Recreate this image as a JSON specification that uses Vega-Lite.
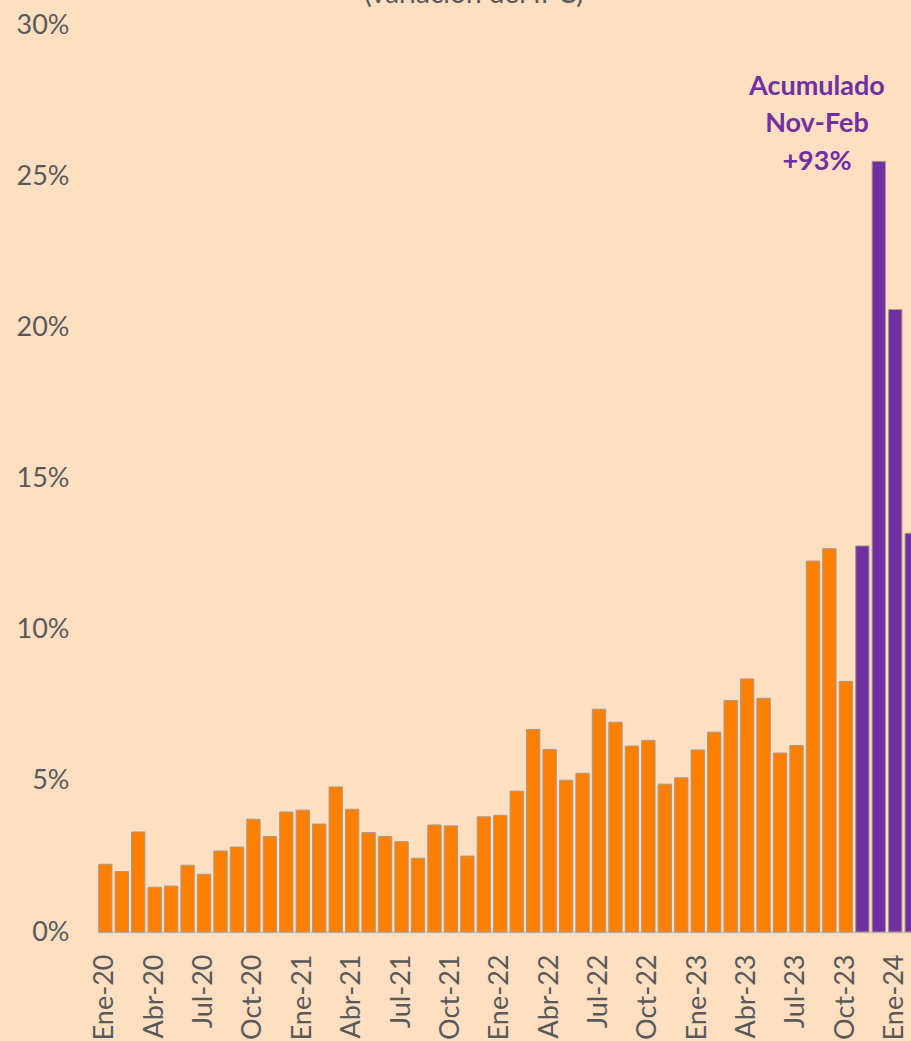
{
  "$schema": "https://vega.github.io/schema/vega-lite/v6.json",
  "autosize": "none",
  "width": 814,
  "height": 907,
  "padding": {"left": 97, "top": 25, "right": 0, "bottom": 109},
  "background": "#FFDFC1",
  "config": {"view": {"stroke": null}},
  "title": {
    "text": "(variación del IPC)",
    "font": "Lato",
    "fontSize": 28,
    "fontWeight": "normal",
    "color": "#595959",
    "anchor": "middle",
    "frame": "group",
    "baseline": "alphabetic",
    "dx": -30,
    "dy": 20,
    "offset": 0
  },
  "datasets": {
    "ipc": [
      {"mes": "Ene-20", "valor": 2.24, "grupo": "base"},
      {"mes": "Feb-20", "valor": 2.0, "grupo": "base"},
      {"mes": "Mar-20", "valor": 3.31, "grupo": "base"},
      {"mes": "Abr-20", "valor": 1.48, "grupo": "base"},
      {"mes": "May-20", "valor": 1.52, "grupo": "base"},
      {"mes": "Jun-20", "valor": 2.21, "grupo": "base"},
      {"mes": "Jul-20", "valor": 1.91, "grupo": "base"},
      {"mes": "Ago-20", "valor": 2.68, "grupo": "base"},
      {"mes": "Sep-20", "valor": 2.81, "grupo": "base"},
      {"mes": "Oct-20", "valor": 3.73, "grupo": "base"},
      {"mes": "Nov-20", "valor": 3.16, "grupo": "base"},
      {"mes": "Dic-20", "valor": 3.97, "grupo": "base"},
      {"mes": "Ene-21", "valor": 4.03, "grupo": "base"},
      {"mes": "Feb-21", "valor": 3.57, "grupo": "base"},
      {"mes": "Mar-21", "valor": 4.8, "grupo": "base"},
      {"mes": "Abr-21", "valor": 4.06, "grupo": "base"},
      {"mes": "May-21", "valor": 3.29, "grupo": "base"},
      {"mes": "Jun-21", "valor": 3.16, "grupo": "base"},
      {"mes": "Jul-21", "valor": 2.99, "grupo": "base"},
      {"mes": "Ago-21", "valor": 2.44, "grupo": "base"},
      {"mes": "Sep-21", "valor": 3.54, "grupo": "base"},
      {"mes": "Oct-21", "valor": 3.51, "grupo": "base"},
      {"mes": "Nov-21", "valor": 2.51, "grupo": "base"},
      {"mes": "Dic-21", "valor": 3.81, "grupo": "base"},
      {"mes": "Ene-22", "valor": 3.86, "grupo": "base"},
      {"mes": "Feb-22", "valor": 4.66, "grupo": "base"},
      {"mes": "Mar-22", "valor": 6.7, "grupo": "base"},
      {"mes": "Abr-22", "valor": 6.04, "grupo": "base"},
      {"mes": "May-22", "valor": 5.02, "grupo": "base"},
      {"mes": "Jun-22", "valor": 5.25, "grupo": "base"},
      {"mes": "Jul-22", "valor": 7.37, "grupo": "base"},
      {"mes": "Ago-22", "valor": 6.94, "grupo": "base"},
      {"mes": "Sep-22", "valor": 6.15, "grupo": "base"},
      {"mes": "Oct-22", "valor": 6.34, "grupo": "base"},
      {"mes": "Nov-22", "valor": 4.89, "grupo": "base"},
      {"mes": "Dic-22", "valor": 5.1, "grupo": "base"},
      {"mes": "Ene-23", "valor": 6.02, "grupo": "base"},
      {"mes": "Feb-23", "valor": 6.61, "grupo": "base"},
      {"mes": "Mar-23", "valor": 7.66, "grupo": "base"},
      {"mes": "Abr-23", "valor": 8.37, "grupo": "base"},
      {"mes": "May-23", "valor": 7.73, "grupo": "base"},
      {"mes": "Jun-23", "valor": 5.92, "grupo": "base"},
      {"mes": "Jul-23", "valor": 6.17, "grupo": "base"},
      {"mes": "Ago-23", "valor": 12.27, "grupo": "base"},
      {"mes": "Sep-23", "valor": 12.68, "grupo": "base"},
      {"mes": "Oct-23", "valor": 8.29, "grupo": "base"},
      {"mes": "Nov-23", "valor": 12.77, "grupo": "acumulado"},
      {"mes": "Dic-23", "valor": 25.49, "grupo": "acumulado"},
      {"mes": "Ene-24", "valor": 20.59, "grupo": "acumulado"},
      {"mes": "Feb-24", "valor": 13.19, "grupo": "acumulado"}
    ],
    "nota": [
      {"mes": "Ago-23", "valor": 27.95, "texto": ["Acumulado", "Nov-Feb", "+93%"]}
    ]
  },
  "layer": [
    {
      "data": {"name": "ipc"},
      "mark": {"type": "bar", "stroke": "#A89A8C", "strokeWidth": 1},
      "encoding": {
        "x": {
          "field": "mes",
          "type": "ordinal",
          "sort": null,
          "scale": {"range": [0, 823], "paddingInner": 0.19, "paddingOuter": 0.1},
          "axis": {
            "title": null,
            "values": ["Ene-20","Abr-20","Jul-20","Oct-20","Ene-21","Abr-21","Jul-21","Oct-21","Ene-22","Abr-22","Jul-22","Oct-22","Ene-23","Abr-23","Jul-23","Oct-23","Ene-24"],
            "labelAngle": -90,
            "labelFont": "Lato",
            "labelFontSize": 27,
            "labelColor": "#595959",
            "labelPadding": 22,
            "ticks": false,
            "domainColor": "#BFBFBF",
            "domainWidth": 1.5,
            "grid": false
          }
        },
        "y": {
          "field": "valor",
          "type": "quantitative",
          "scale": {"domain": [0, 30], "nice": false},
          "axis": {
            "title": null,
            "values": [0, 5, 10, 15, 20, 25, 30],
            "labelExpr": "datum.value + '%'",
            "labelFont": "Lato",
            "labelFontSize": 27,
            "labelColor": "#595959",
            "labelPadding": 28,
            "ticks": false,
            "domain": false,
            "grid": false
          }
        },
        "fill": {
          "field": "grupo",
          "type": "nominal",
          "scale": {"domain": ["base", "acumulado"], "range": ["#FF8000", "#7030A0"]},
          "legend": null
        }
      }
    },
    {
      "data": {"name": "nota"},
      "mark": {
        "type": "text",
        "font": "Lato",
        "fontSize": 27,
        "fontWeight": "bold",
        "color": "#7030A0",
        "align": "center",
        "baseline": "middle",
        "lineHeight": 37.5,
        "dx": 4
      },
      "encoding": {
        "x": {"field": "mes", "type": "ordinal", "sort": null},
        "y": {"field": "valor", "type": "quantitative"},
        "text": {"field": "texto"}
      }
    }
  ]
}
